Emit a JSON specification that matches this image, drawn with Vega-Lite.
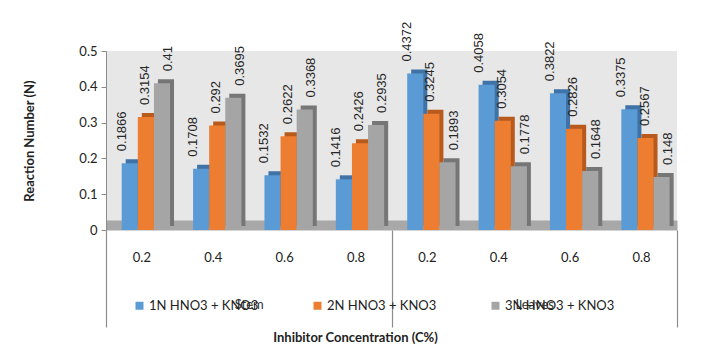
{
  "$schema": "https://vega.github.io/schema/vega-lite/v6.json",
  "width": 571,
  "height": 179,
  "autosize": "none",
  "padding": {"left": 106, "top": 51, "right": 24, "bottom": 117},
  "background": "white",
  "config": {
    "view": {"fill": "#e7e7e7", "stroke": null},
    "font": "Lato",
    "legend": {"padding": 0}
  },
  "data": {
    "values": [
      {"part": "Stem", "conc": "0.2", "cat": "Stem 0.2", "series": "1N HNO3 + KNO3", "value": 0.1866},
      {"part": "Stem", "conc": "0.2", "cat": "Stem 0.2", "series": "2N HNO3 + KNO3", "value": 0.3154},
      {"part": "Stem", "conc": "0.2", "cat": "Stem 0.2", "series": "3N HNO3 + KNO3", "value": 0.41},
      {"part": "Stem", "conc": "0.4", "cat": "Stem 0.4", "series": "1N HNO3 + KNO3", "value": 0.1708},
      {"part": "Stem", "conc": "0.4", "cat": "Stem 0.4", "series": "2N HNO3 + KNO3", "value": 0.292},
      {"part": "Stem", "conc": "0.4", "cat": "Stem 0.4", "series": "3N HNO3 + KNO3", "value": 0.3695},
      {"part": "Stem", "conc": "0.6", "cat": "Stem 0.6", "series": "1N HNO3 + KNO3", "value": 0.1532},
      {"part": "Stem", "conc": "0.6", "cat": "Stem 0.6", "series": "2N HNO3 + KNO3", "value": 0.2622},
      {"part": "Stem", "conc": "0.6", "cat": "Stem 0.6", "series": "3N HNO3 + KNO3", "value": 0.3368},
      {"part": "Stem", "conc": "0.8", "cat": "Stem 0.8", "series": "1N HNO3 + KNO3", "value": 0.1416},
      {"part": "Stem", "conc": "0.8", "cat": "Stem 0.8", "series": "2N HNO3 + KNO3", "value": 0.2426},
      {"part": "Stem", "conc": "0.8", "cat": "Stem 0.8", "series": "3N HNO3 + KNO3", "value": 0.2935},
      {"part": "Leaves", "conc": "0.2", "cat": "Leaves 0.2", "series": "1N HNO3 + KNO3", "value": 0.4372},
      {"part": "Leaves", "conc": "0.2", "cat": "Leaves 0.2", "series": "2N HNO3 + KNO3", "value": 0.3245},
      {"part": "Leaves", "conc": "0.2", "cat": "Leaves 0.2", "series": "3N HNO3 + KNO3", "value": 0.1893},
      {"part": "Leaves", "conc": "0.4", "cat": "Leaves 0.4", "series": "1N HNO3 + KNO3", "value": 0.4058},
      {"part": "Leaves", "conc": "0.4", "cat": "Leaves 0.4", "series": "2N HNO3 + KNO3", "value": 0.3054},
      {"part": "Leaves", "conc": "0.4", "cat": "Leaves 0.4", "series": "3N HNO3 + KNO3", "value": 0.1778},
      {"part": "Leaves", "conc": "0.6", "cat": "Leaves 0.6", "series": "1N HNO3 + KNO3", "value": 0.3822},
      {"part": "Leaves", "conc": "0.6", "cat": "Leaves 0.6", "series": "2N HNO3 + KNO3", "value": 0.2826},
      {"part": "Leaves", "conc": "0.6", "cat": "Leaves 0.6", "series": "3N HNO3 + KNO3", "value": 0.1648},
      {"part": "Leaves", "conc": "0.8", "cat": "Leaves 0.8", "series": "1N HNO3 + KNO3", "value": 0.3375},
      {"part": "Leaves", "conc": "0.8", "cat": "Leaves 0.8", "series": "2N HNO3 + KNO3", "value": 0.2567},
      {"part": "Leaves", "conc": "0.8", "cat": "Leaves 0.8", "series": "3N HNO3 + KNO3", "value": 0.148}
    ]
  },
  "encoding": {
    "y": {
      "field": "value",
      "type": "quantitative",
      "scale": {"domain": [0, 0.5], "nice": false, "zero": true},
      "axis": {
        "title": "Reaction Number (N)",
        "titleFont": "Lato",
        "titleFontSize": 13,
        "titleFontWeight": "bold",
        "titleColor": "#222222",
        "titlePadding": 42,
        "values": [0, 0.1, 0.2, 0.3, 0.4, 0.5],
        "format": "~g",
        "grid": false,
        "domainColor": "#8c8c8c",
        "domainWidth": 1,
        "tickSize": 5,
        "tickColor": "#8c8c8c",
        "labelPadding": 4,
        "labelFont": "Lato",
        "labelFontSize": 13,
        "labelColor": "#222222"
      }
    }
  },
  "layer": [
    {
      "mark": {"type": "bar", "yOffset": -4},
      "encoding": {
        "x": {
          "field": "cat",
          "type": "nominal",
          "sort": null,
          "scale": {"paddingInner": 0.267, "paddingOuter": 0.1335, "align": 0.824},
          "axis": null
        },
        "xOffset": {
          "field": "series",
          "type": "nominal",
          "sort": null,
          "scale": {"paddingInner": 0, "paddingOuter": 0.124, "align": 1}
        },
        "fill": {
          "field": "series",
          "type": "nominal",
          "sort": null,
          "scale": {"range": ["#3f72a6", "#b85a1c", "#767676"]},
          "legend": null
        }
      }
    },
    {
      "mark": {"type": "bar"},
      "encoding": {
        "x": {
          "field": "cat",
          "type": "nominal",
          "sort": null,
          "scale": {"paddingInner": 0.267, "paddingOuter": 0.1335, "align": 0.824},
          "axis": {
            "labelExpr": "split(datum.label, ' ')[1]",
            "labelAngle": 0,
            "labelOffset": -6,
            "labelFont": "Lato",
            "labelFontSize": 13,
            "labelColor": "#222222",
            "labelPadding": 26,
            "ticks": false,
            "offset": -5,
            "domainColor": "#a8a8a8",
            "domainWidth": 10,
            "title": "Inhibitor Concentration (C%)",
            "titleFont": "Lato",
            "titleFontSize": 13,
            "titleFontWeight": "bold",
            "titleColor": "#222222",
            "titleX": 249,
            "titleY": 112,
            "titleBaseline": "middle"
          }
        },
        "xOffset": {
          "field": "series",
          "type": "nominal",
          "sort": null,
          "scale": {"paddingInner": 0, "paddingOuter": 0.124, "align": 0}
        },
        "color": {
          "field": "series",
          "type": "nominal",
          "sort": null,
          "scale": {"range": ["#5b9bd5", "#ed7d31", "#a5a5a5"]},
          "legend": {
            "title": null,
            "orient": "none",
            "direction": "horizontal",
            "columns": 3,
            "legendX": 27,
            "legendY": 248,
            "symbolType": "square",
            "symbolSize": 64,
            "symbolStrokeWidth": 0,
            "labelFont": "Lato",
            "labelFontSize": 13,
            "labelColor": "#222222",
            "labelOffset": 3,
            "columnPadding": 52
          }
        }
      }
    },
    {
      "mark": {
        "type": "text",
        "angle": 270,
        "align": "left",
        "baseline": "middle",
        "dx": 12,
        "font": "Liberation Sans",
        "fontSize": 13,
        "color": "#262626"
      },
      "encoding": {
        "x": {
          "field": "cat",
          "type": "nominal",
          "sort": null,
          "scale": {"paddingInner": 0.267, "paddingOuter": 0.1335, "align": 0.824},
          "axis": null
        },
        "xOffset": {
          "field": "series",
          "type": "nominal",
          "sort": null,
          "scale": {"paddingInner": 0, "paddingOuter": 0.124, "align": 0}
        },
        "text": {"field": "value", "type": "quantitative", "format": ".4~f"}
      }
    },
    {
      "mark": {"type": "bar", "opacity": 0},
      "encoding": {
        "y": {"value": 0},
        "y2": {"value": 0},
        "x": {
          "field": "part",
          "type": "nominal",
          "sort": null,
          "scale": {"domain": ["Stem", "Leaves"], "paddingInner": 0, "paddingOuter": 0},
          "axis": {
            "orient": "bottom",
            "title": null,
            "domain": false,
            "ticks": true,
            "tickBand": "extent",
            "tickSize": 97,
            "tickColor": "#8c8c8c",
            "tickWidth": 1.2,
            "labelAngle": 0,
            "labelPadding": -29,
            "labelFont": "Lato",
            "labelFontSize": 13,
            "labelColor": "#333333"
          }
        }
      }
    }
  ],
  "resolve": {
    "scale": {"x": "independent", "xOffset": "independent", "color": "independent"},
    "axis": {"x": "independent"}
  }
}
